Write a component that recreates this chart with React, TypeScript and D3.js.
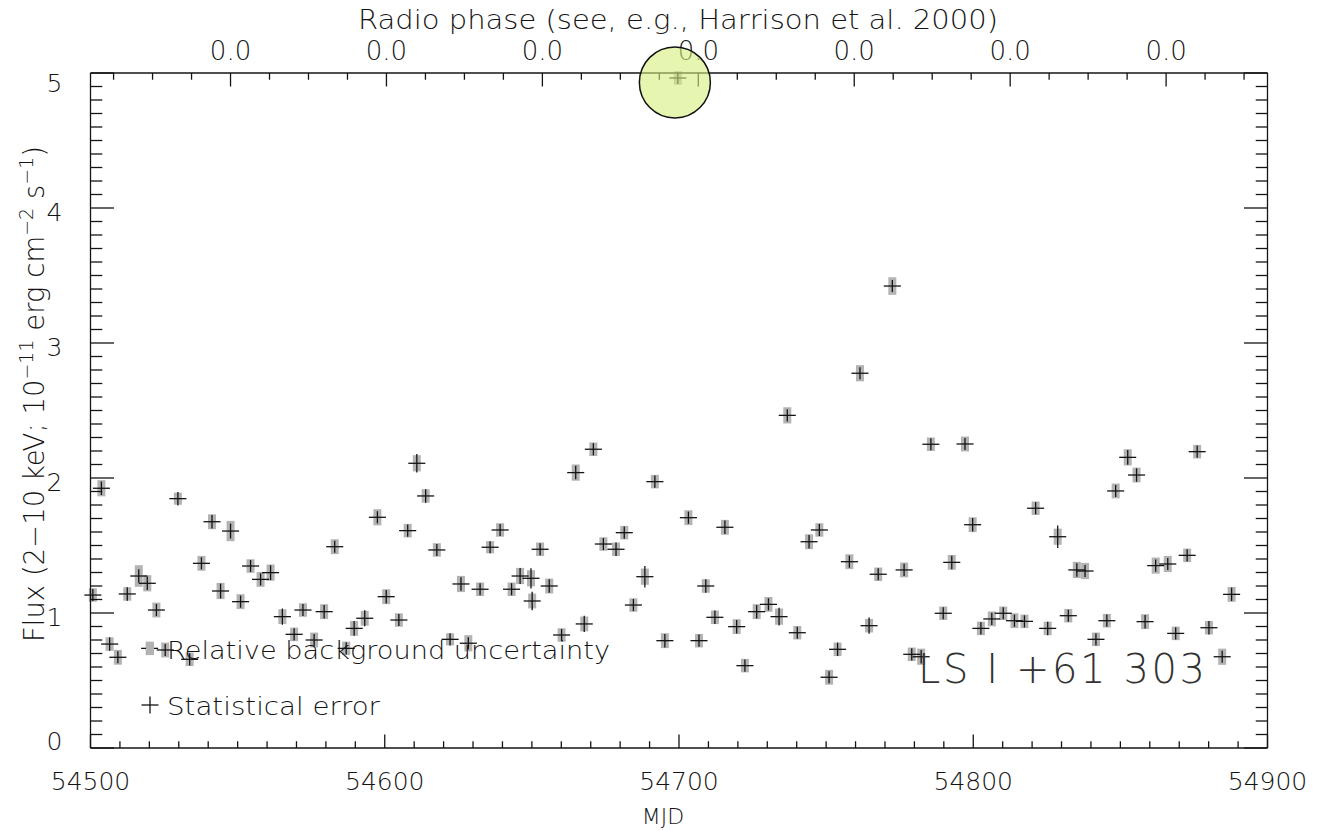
import React from 'react';
import * as d3 from 'd3';

// Swift/XRT monitoring of LS I +61 303: time (MJD) and 2-10 keV flux (1e-11 erg/cm2/s)
const mjd = [
  54500.8, 54503.7, 54506.5, 54509.3, 54512.5, 54516.4, 54519.3, 54520.1, 54522.4, 54525.4,
  54529.7, 54533.7, 54537.7, 54541.3, 54544.2, 54547.6, 54551.0, 54554.4, 54557.8, 54561.2,
  54565.2, 54569.2, 54572.2, 54576.0, 54579.4, 54583.0, 54586.9, 54589.6, 54593.2, 54597.5,
  54600.5, 54604.8, 54607.8, 54610.9, 54613.9, 54617.7, 54622.2, 54625.9, 54628.4, 54632.4,
  54635.8, 54639.2, 54643.1, 54646.0, 54649.7, 54650.1, 54652.8, 54655.9, 54660.1, 54664.9,
  54667.8, 54670.9, 54674.3, 54678.6, 54681.4, 54684.5, 54688.4, 54691.8, 54695.2, 54699.6,
  54703.2, 54706.8, 54709.1, 54712.2, 54715.6, 54719.6, 54722.4, 54726.4, 54730.4, 54734.0,
  54736.8, 54740.2, 54744.2, 54747.7, 54751.0, 54753.9, 54757.9, 54761.5, 54764.6, 54767.7,
  54772.5, 54776.5, 54779.1, 54782.3, 54785.6, 54789.8, 54792.7, 54797.2, 54799.8, 54802.6,
  54806.3, 54810.2, 54814.0, 54817.4, 54821.2, 54825.3, 54828.7, 54832.3, 54835.2, 54838.0,
  54841.7, 54845.4, 54848.4, 54852.5, 54855.5, 54858.4, 54862.0, 54866.1, 54868.8, 54872.7,
  54876.1, 54880.1, 54884.6, 54887.8,
];
const flux = [
  1.133, 1.924, 0.770, 0.672, 1.141, 1.274, 1.220, 0.738, 1.022, 0.726,
  1.847, 0.657, 1.368, 1.676, 1.163, 1.607, 1.084, 1.348, 1.249, 1.299,
  0.973, 0.842, 1.022, 0.800, 1.010, 1.491, 0.738, 0.886, 0.961, 1.709,
  1.121, 0.948, 1.610, 2.109, 1.867, 1.467, 0.805, 1.215, 0.776, 1.176,
  1.487, 1.615, 1.176, 1.274, 1.257, 1.089, 1.472, 1.200, 0.837, 2.040,
  0.919, 2.213, 1.511, 1.472, 1.595, 1.059, 1.269, 1.973, 0.795, 4.963,
  1.706, 0.795, 1.200, 0.968, 1.635, 0.899, 0.610, 1.010, 1.064, 0.973,
  2.464, 0.854, 1.528, 1.615, 0.524, 0.731, 1.380, 2.776, 0.906, 1.287,
  3.422, 1.319, 0.694, 0.676, 2.250, 0.998, 1.375, 2.252, 1.654, 0.886,
  0.956, 0.998, 0.943, 0.938, 1.776, 0.886, 1.565, 0.980, 1.319, 1.311,
  0.805, 0.943, 1.904, 2.153, 2.022, 0.936, 1.351, 1.363, 0.849, 1.427,
  2.195, 0.891, 0.676, 1.138,
];
// 1-sigma statistical error on the flux
const statErr = [
  0.045, 0.050, 0.050, 0.045, 0.050, 0.050, 0.050, 0.045, 0.045, 0.045,
  0.050, 0.045, 0.045, 0.050, 0.055, 0.055, 0.045, 0.045, 0.045, 0.055,
  0.060, 0.045, 0.045, 0.045, 0.050, 0.045, 0.045, 0.055, 0.060, 0.045,
  0.050, 0.045, 0.045, 0.068, 0.050, 0.045, 0.045, 0.050, 0.045, 0.045,
  0.045, 0.045, 0.045, 0.060, 0.075, 0.068, 0.045, 0.050, 0.045, 0.050,
  0.060, 0.045, 0.045, 0.050, 0.045, 0.045, 0.080, 0.045, 0.050, 0.045,
  0.045, 0.045, 0.050, 0.050, 0.050, 0.050, 0.045, 0.050, 0.045, 0.065,
  0.045, 0.045, 0.050, 0.045, 0.045, 0.050, 0.045, 0.045, 0.060, 0.045,
  0.045, 0.045, 0.045, 0.050, 0.045, 0.045, 0.050, 0.045, 0.050, 0.045,
  0.045, 0.045, 0.045, 0.045, 0.045, 0.050, 0.083, 0.045, 0.050, 0.045,
  0.045, 0.045, 0.045, 0.055, 0.050, 0.050, 0.045, 0.045, 0.045, 0.045,
  0.045, 0.050, 0.045, 0.050,
];
// relative background uncertainty band, half height in flux units
const bgErr = [
  0.050, 0.060, 0.050, 0.055, 0.050, 0.080, 0.060, 0.050, 0.055, 0.055,
  0.045, 0.050, 0.055, 0.055, 0.060, 0.075, 0.055, 0.050, 0.055, 0.060,
  0.055, 0.050, 0.050, 0.055, 0.055, 0.055, 0.050, 0.055, 0.055, 0.060,
  0.055, 0.050, 0.050, 0.060, 0.050, 0.050, 0.045, 0.060, 0.060, 0.050,
  0.045, 0.050, 0.050, 0.060, 0.060, 0.055, 0.050, 0.055, 0.050, 0.060,
  0.055, 0.050, 0.050, 0.050, 0.050, 0.050, 0.060, 0.050, 0.055, 0.050,
  0.055, 0.050, 0.050, 0.050, 0.055, 0.055, 0.050, 0.055, 0.055, 0.060,
  0.060, 0.050, 0.055, 0.050, 0.055, 0.050, 0.055, 0.060, 0.050, 0.050,
  0.065, 0.055, 0.050, 0.060, 0.050, 0.050, 0.055, 0.055, 0.055, 0.050,
  0.055, 0.050, 0.055, 0.050, 0.050, 0.050, 0.060, 0.050, 0.060, 0.060,
  0.050, 0.050, 0.055, 0.060, 0.055, 0.055, 0.060, 0.060, 0.050, 0.050,
  0.050, 0.050, 0.060, 0.055,
];
// half length of the time bin drawn as the horizontal bar (days)
const BIN_HALF_DAYS = 2.9;

const xMajorTicks = [54500, 54600, 54700, 54800, 54900];
const yMajorTicks = [0, 1, 2, 3, 4, 5];

// radio ephemeris: phase zero at JD 2443366.775, P = 26.4960 d
const RADIO_T0_MJD = 43366.275;
const RADIO_PERIOD = 26.496;

// circled giant flare
const flareMjd = 54698.6;
const flareFlux = 4.93;

const W = 1317;
const H = 831;
const M = { left: 90.5, right: 1267.5, top: 73, bottom: 748 };
const FONT = "'DejaVu Sans', sans-serif";
const INK = '#141414';

export default function App() {
  const x = d3.scaleLinear().domain([54500, 54900]).range([M.left, M.right]);
  const y = d3.scaleLinear().domain([0, 5]).range([M.bottom, M.top]);

  const xMinor = d3.range(54510, 54900, 10).filter((v) => v % 100 !== 0);
  const yMinor = d3.range(1, 50).map((v) => v / 10).filter((v) => Math.round(v * 10) % 10 !== 0);

  const c0 = Math.ceil(((54500 - RADIO_T0_MJD) / RADIO_PERIOD) * 2) / 2;
  const c1 = Math.floor(((54900 - RADIO_T0_MJD) / RADIO_PERIOD) * 2) / 2;
  const cycles = d3.range(c0, c1 + 0.001, 0.5);
  const phaseTicks = cycles.map((c) => ({
    t: RADIO_T0_MJD + c * RADIO_PERIOD,
    major: Number.isInteger(c) && c % 2 === 0,
    label: (c - Math.floor(c)).toFixed(1),
  }));

  const xTickLen = 0.02 * (M.bottom - M.top);
  const yTickLen = 0.02 * (M.right - M.left);

  // y labels sit a little below their tick, kept inside the frame at both ends
  const yLabelCenter = (v: number) => Math.min(Math.max(y(v) + 4, M.top + 10), M.bottom - 7);

  const points = mjd.map((t, i) => ({ t, f: flux[i], se: statErr[i], bg: bgErr[i] }));

  return (
    <svg
      width={W}
      height={H}
      style={{ position: 'absolute', left: 0, top: 0, background: '#fff' }}
      fontFamily={FONT}
      fontWeight={200}
    >
      <rect x={0} y={0} width={W} height={H} fill="#fff" />

      {/* background uncertainty boxes */}
      <g fill="#b3b3b3">
        {points.map((p, i) => (
          <rect
            key={i}
            x={x(p.t) - 4}
            y={y(p.f + p.bg)}
            width={8}
            height={y(p.f - p.bg) - y(p.f + p.bg)}
          />
        ))}
      </g>
      {/* time bins and statistical errors */}
      <g stroke={INK} strokeWidth={1.3} fill="none">
        {points.map((p, i) => (
          <g key={i}>
            <line x1={x(p.t - BIN_HALF_DAYS)} x2={x(p.t + BIN_HALF_DAYS)} y1={y(p.f)} y2={y(p.f)} />
            <line x1={x(p.t)} x2={x(p.t)} y1={y(p.f - p.se)} y2={y(p.f + p.se)} />
          </g>
        ))}
      </g>

      {/* frame */}
      <g stroke={INK} strokeWidth={1.3} fill="none">
        <line x1={M.left} x2={M.right} y1={M.bottom} y2={M.bottom} />
        <line x1={M.left} x2={M.right} y1={M.top} y2={M.top} />
        <line x1={M.left} x2={M.left} y1={M.top} y2={M.bottom} />
        <line x1={M.right} x2={M.right} y1={M.top} y2={M.bottom} />
        {xMajorTicks.map((v) => (
          <line key={'xm' + v} x1={x(v)} x2={x(v)} y1={M.bottom} y2={M.bottom - xTickLen} />
        ))}
        {xMinor.map((v) => (
          <line key={'xn' + v} x1={x(v)} x2={x(v)} y1={M.bottom} y2={M.bottom - xTickLen / 2} />
        ))}
        {yMajorTicks.map((v) => (
          <g key={'ym' + v}>
            <line x1={M.left} x2={M.left + yTickLen} y1={y(v)} y2={y(v)} />
            <line x1={M.right} x2={M.right - yTickLen} y1={y(v)} y2={y(v)} />
          </g>
        ))}
        {yMinor.map((v) => (
          <g key={'yn' + v}>
            <line x1={M.left} x2={M.left + yTickLen / 2} y1={y(v)} y2={y(v)} />
            <line x1={M.right} x2={M.right - yTickLen / 2} y1={y(v)} y2={y(v)} />
          </g>
        ))}
        {phaseTicks.map((p, i) => (
          <line
            key={'p' + i}
            x1={x(p.t)}
            x2={x(p.t)}
            y1={M.top}
            y2={M.top + (p.major ? xTickLen : xTickLen / 2)}
          />
        ))}
      </g>

      {/* tick labels */}
      <g fill={INK} fontSize={25}>
        {xMajorTicks.map((v) => (
          <text key={'xl' + v} x={x(v)} y={M.bottom + 42} textAnchor="middle">
            {v}
          </text>
        ))}
        {yMajorTicks.map((v) => (
          <text key={'yl' + v} x={M.left - 28} y={yLabelCenter(v) + 9} textAnchor="end">
            {v}
          </text>
        ))}
        {phaseTicks
          .filter((p) => p.major)
          .map((p, i) => (
            <text key={'pl' + i} x={x(p.t)} y={M.top - 13} textAnchor="middle" fontSize={26}>
              {p.label}
            </text>
          ))}
      </g>

      {/* axis titles */}
      <g fill={INK}>
        <text
          x={678}
          y={M.top - 44}
          textAnchor="middle"
          fontSize={26}
          textLength={640}
          lengthAdjust="spacingAndGlyphs"
        >
          Radio phase (see, e.g., Harrison et al. 2000)
        </text>
        <text x={(M.left + M.right) / 2 - 16} y={824} textAnchor="middle" fontSize={22}>
          MJD
        </text>
        <text transform="translate(44, 394) rotate(-90)" textAnchor="middle" fontSize={27.5}>
          Flux (2−10 keV; 10
          <tspan dy={-11} fontSize={19}>−11</tspan>
          <tspan dy={11}> erg cm</tspan>
          <tspan dy={-11} fontSize={19}>−2</tspan>
          <tspan dy={11}> s</tspan>
          <tspan dy={-11} fontSize={19}>−1</tspan>
          <tspan dy={11}>)</tspan>
        </text>
      </g>

      {/* legend */}
      <g>
        <rect x={146} y={642} width={8} height={13} fill="#b3b3b3" />
        <text
          x={167}
          y={659}
          fontSize={25}
          fill={INK}
          textLength={443}
          lengthAdjust="spacingAndGlyphs"
        >
          Relative background uncertainty
        </text>
        <g stroke={INK} strokeWidth={1.3}>
          <line x1={141.5} x2={158.5} y1={705} y2={705} />
          <line x1={150} x2={150} y1={696.5} y2={713.5} />
        </g>
        <text
          x={167}
          y={715}
          fontSize={25}
          fill={INK}
          textLength={213}
          lengthAdjust="spacingAndGlyphs"
        >
          Statistical error
        </text>
      </g>

      {/* source name */}
      <text x={918} y={683} fontSize={40} fill="#333" textLength={287} lengthAdjust="spacing">
        LS I +61 303
      </text>

      {/* flare marker */}
      <circle
        cx={x(flareMjd)}
        cy={y(flareFlux)}
        r={35.5}
        fill="#d6f07c"
        fillOpacity={0.6}
        stroke="#111"
        strokeWidth={1.5}
      />
    </svg>
  );
}
